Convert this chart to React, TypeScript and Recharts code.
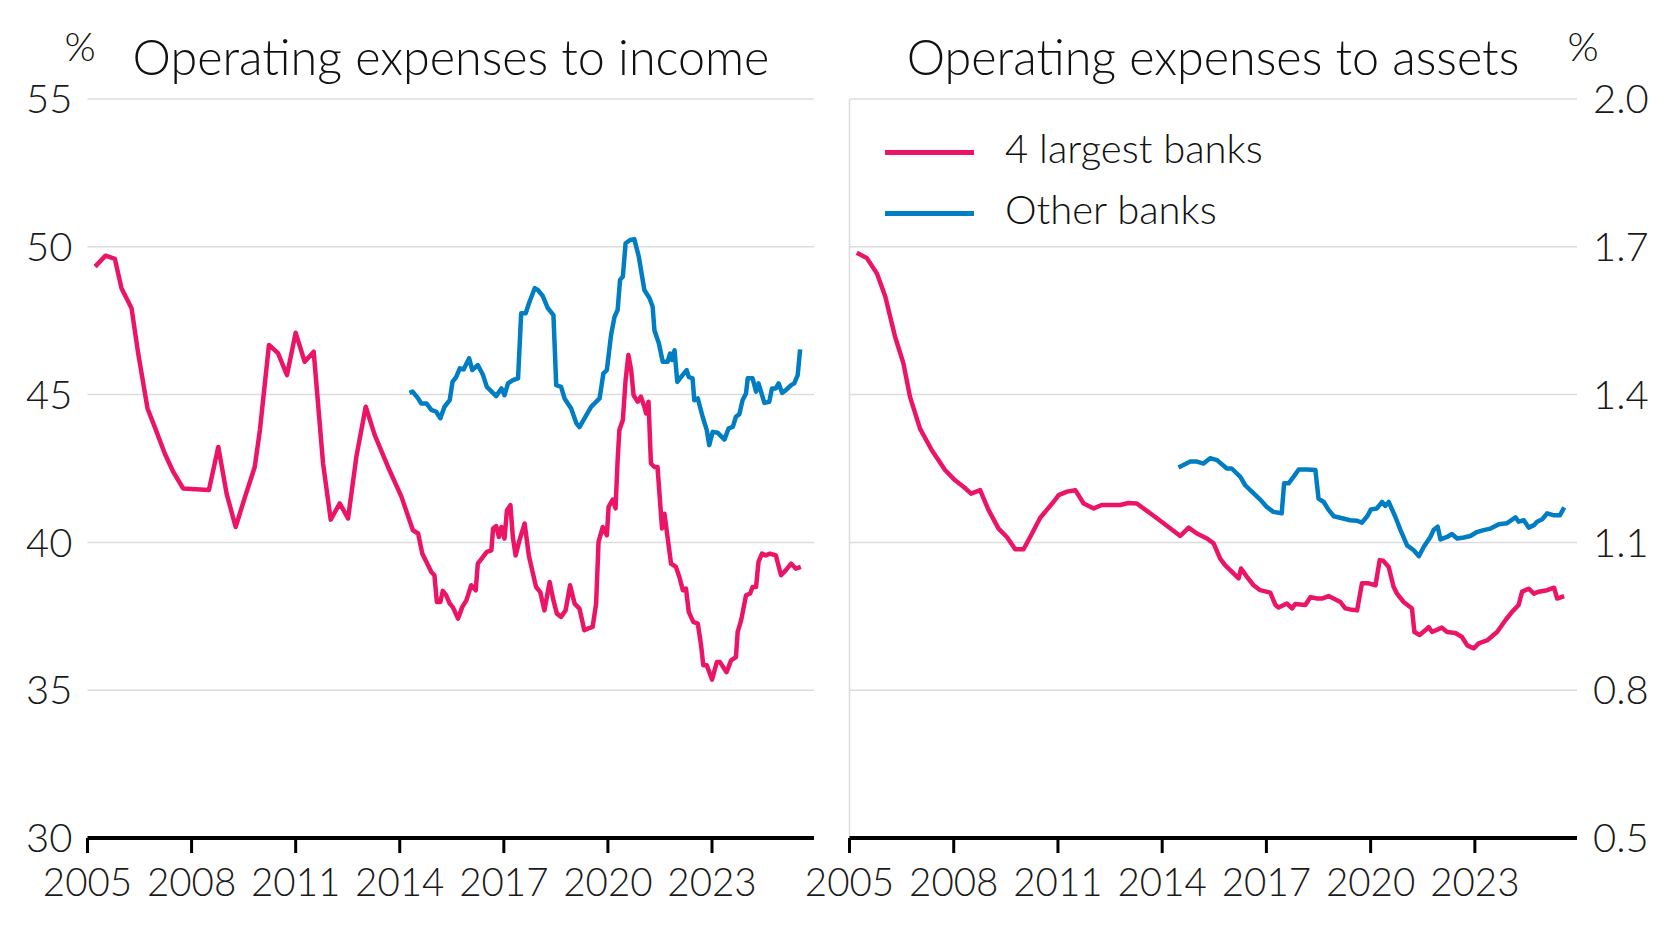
import { LineChart, Line, XAxis, YAxis, CartesianGrid, ReferenceLine } from "recharts";

const PINK = "#EC1466";
const BLUE = "#007DC3";
const GRID = "#DCDCDC";
const FONT = "Lato, 'Open Sans', sans-serif";
const PAGE_W = 1673;
const PAGE_H = 937;

const YEAR_TICKS = [2005, 2008, 2011, 2014, 2017, 2020, 2023];
const X_DOMAIN: [number, number] = [2005, 2025.94];
const INCOME_TICKS = [30, 35, 40, 45, 50, 55];
const ASSET_TICKS = [0.5, 0.8, 1.1, 1.4, 1.7, 2.0];

// Operating expenses to income, 4 largest banks (year, %)
const incomeMajors: [number, number][] = [
  [2005.22, 49.33], [2005.52, 49.7], [2005.79, 49.59], [2005.98, 48.6], [2006.27, 47.92],
  [2006.46, 46.4], [2006.73, 44.53], [2006.94, 43.9], [2007.23, 43.0], [2007.47, 42.39],
  [2007.76, 41.82], [2008.5, 41.77], [2008.77, 43.23], [2009.01, 41.65], [2009.27, 40.52],
  [2009.54, 41.54], [2009.82, 42.55], [2009.97, 43.8], [2010.23, 46.68], [2010.49, 46.4],
  [2010.75, 45.66], [2011.0, 47.09], [2011.26, 46.11], [2011.52, 46.45], [2011.79, 42.67],
  [2012.01, 40.77], [2012.27, 41.32], [2012.51, 40.81], [2012.75, 42.9], [2013.02, 44.59],
  [2013.28, 43.63], [2013.66, 42.56], [2014.05, 41.54], [2014.38, 40.41], [2014.53, 40.3],
  [2014.65, 39.62], [2014.77, 39.34], [2014.91, 39.0], [2015.0, 38.89], [2015.07, 37.98],
  [2015.17, 37.98], [2015.24, 38.36], [2015.34, 38.21], [2015.44, 37.93], [2015.53, 37.81],
  [2015.68, 37.42], [2015.8, 37.81], [2015.92, 38.04], [2016.06, 38.55], [2016.19, 38.38],
  [2016.25, 39.28], [2016.4, 39.51], [2016.51, 39.68], [2016.64, 39.73], [2016.69, 40.47],
  [2016.78, 40.55], [2016.86, 40.18], [2016.93, 40.52], [2017.02, 40.13], [2017.09, 41.09],
  [2017.19, 41.26], [2017.26, 40.18], [2017.34, 39.56], [2017.45, 40.07], [2017.6, 40.64],
  [2017.72, 39.56], [2017.84, 38.94], [2017.93, 38.49], [2018.05, 38.32], [2018.17, 37.7],
  [2018.32, 38.66], [2018.43, 38.04], [2018.53, 37.59], [2018.65, 37.48], [2018.78, 37.7],
  [2018.91, 38.55], [2019.04, 37.93], [2019.18, 37.76], [2019.32, 37.03], [2019.42, 37.08],
  [2019.56, 37.14], [2019.66, 37.93], [2019.73, 40.02], [2019.85, 40.52], [2019.97, 40.24],
  [2020.02, 41.2], [2020.14, 41.45], [2020.22, 41.15], [2020.28, 42.78], [2020.33, 43.8],
  [2020.43, 44.14], [2020.51, 45.49], [2020.59, 46.34], [2020.67, 45.83], [2020.74, 44.98],
  [2020.86, 44.76], [2020.95, 44.93], [2021.05, 44.59], [2021.1, 44.36], [2021.17, 44.76],
  [2021.24, 42.67], [2021.34, 42.55], [2021.43, 42.55], [2021.56, 40.47], [2021.63, 40.97],
  [2021.82, 39.28], [2021.96, 39.17], [2022.06, 38.83], [2022.16, 38.38], [2022.25, 38.44],
  [2022.33, 37.65], [2022.46, 37.31], [2022.59, 37.25], [2022.68, 36.57], [2022.75, 35.84],
  [2022.85, 35.84], [2023.0, 35.36], [2023.14, 35.95], [2023.23, 35.95], [2023.42, 35.61],
  [2023.55, 36.01], [2023.69, 36.12], [2023.74, 36.97], [2023.84, 37.36], [2023.98, 38.21],
  [2024.1, 38.27], [2024.17, 38.49], [2024.27, 38.49], [2024.34, 39.34], [2024.44, 39.62],
  [2024.55, 39.56], [2024.67, 39.62], [2024.84, 39.56], [2024.99, 38.89], [2025.13, 39.06],
  [2025.28, 39.28], [2025.42, 39.11], [2025.56, 39.17],
];

// Operating expenses to income, other banks (year, %)
const incomeOthers: [number, number][] = [
  [2014.28, 45.06], [2014.37, 45.1], [2014.53, 44.87], [2014.62, 44.7], [2014.77, 44.7],
  [2014.91, 44.48], [2015.05, 44.42], [2015.17, 44.2], [2015.29, 44.59], [2015.44, 44.81],
  [2015.52, 45.43], [2015.63, 45.6], [2015.73, 45.89], [2015.84, 45.85], [2016.0, 46.23],
  [2016.09, 45.83], [2016.25, 46.0], [2016.4, 45.66], [2016.51, 45.26], [2016.78, 44.95],
  [2016.93, 45.21], [2017.02, 44.98], [2017.12, 45.38], [2017.26, 45.49], [2017.41, 45.55],
  [2017.5, 47.75], [2017.63, 47.75], [2017.74, 48.14], [2017.89, 48.6], [2017.98, 48.54],
  [2018.12, 48.34], [2018.27, 47.92], [2018.43, 47.69], [2018.51, 45.32], [2018.65, 45.26],
  [2018.75, 44.87], [2018.94, 44.53], [2019.09, 44.03], [2019.18, 43.9], [2019.32, 44.19],
  [2019.52, 44.59], [2019.76, 44.87], [2019.87, 45.72], [2019.97, 45.83], [2020.09, 47.01],
  [2020.19, 47.63], [2020.28, 47.86], [2020.35, 48.88], [2020.43, 48.99], [2020.51, 50.12],
  [2020.64, 50.23], [2020.76, 50.26], [2020.89, 49.67], [2021.05, 48.54], [2021.2, 48.26],
  [2021.29, 47.97], [2021.34, 47.18], [2021.47, 46.73], [2021.58, 46.11], [2021.72, 46.11],
  [2021.79, 46.39], [2021.85, 46.17], [2021.92, 46.5], [2022.0, 45.43], [2022.11, 45.6],
  [2022.27, 45.83], [2022.33, 45.6], [2022.44, 45.55], [2022.49, 44.81], [2022.59, 44.87],
  [2022.73, 44.25], [2022.85, 43.8], [2022.92, 43.29], [2023.02, 43.74], [2023.16, 43.71],
  [2023.36, 43.48], [2023.48, 43.86], [2023.6, 43.91], [2023.69, 44.25], [2023.79, 44.34],
  [2023.88, 44.81], [2023.98, 45.04], [2024.03, 45.55], [2024.17, 45.55], [2024.27, 45.1],
  [2024.34, 45.38], [2024.51, 44.72], [2024.65, 44.76], [2024.73, 45.21], [2024.84, 45.21],
  [2024.92, 45.38], [2025.02, 45.06], [2025.13, 45.15], [2025.28, 45.32], [2025.37, 45.38],
  [2025.47, 45.66], [2025.54, 46.53],
];

// Operating expenses to assets, 4 largest banks (year, %)
const assetsMajors: [number, number][] = [
  [2005.21, 1.688], [2005.5, 1.677], [2005.79, 1.646], [2006.03, 1.599], [2006.31, 1.518],
  [2006.55, 1.464], [2006.74, 1.396], [2007.03, 1.331], [2007.37, 1.287], [2007.75, 1.247],
  [2008.04, 1.226], [2008.28, 1.213], [2008.5, 1.199], [2008.76, 1.206], [2009.0, 1.166],
  [2009.29, 1.128], [2009.53, 1.111], [2009.77, 1.086], [2010.01, 1.086], [2010.2, 1.111],
  [2010.49, 1.15], [2010.68, 1.166], [2010.87, 1.182], [2011.02, 1.196], [2011.26, 1.203],
  [2011.5, 1.206], [2011.74, 1.179], [2012.03, 1.169], [2012.26, 1.176], [2012.79, 1.176],
  [2013.03, 1.18], [2013.27, 1.179], [2013.85, 1.149], [2014.52, 1.113], [2014.76, 1.13],
  [2015.0, 1.118], [2015.29, 1.108], [2015.48, 1.098], [2015.67, 1.067], [2015.81, 1.054],
  [2016.2, 1.027], [2016.27, 1.047], [2016.44, 1.03], [2016.63, 1.013], [2016.82, 1.003],
  [2017.11, 0.998], [2017.26, 0.973], [2017.35, 0.968], [2017.59, 0.976], [2017.74, 0.966],
  [2017.83, 0.975], [2018.12, 0.973], [2018.27, 0.989], [2018.46, 0.986], [2018.6, 0.986],
  [2018.79, 0.991], [2019.13, 0.979], [2019.27, 0.966], [2019.41, 0.964], [2019.61, 0.962],
  [2019.75, 1.017], [2019.94, 1.017], [2020.14, 1.013], [2020.26, 1.064], [2020.36, 1.063],
  [2020.52, 1.05], [2020.66, 1.01], [2020.76, 0.996], [2020.95, 0.979], [2021.19, 0.966],
  [2021.26, 0.918], [2021.41, 0.912], [2021.58, 0.922], [2021.67, 0.928], [2021.77, 0.918],
  [2022.05, 0.927], [2022.2, 0.918], [2022.44, 0.916], [2022.63, 0.908], [2022.78, 0.891],
  [2022.97, 0.885], [2023.11, 0.895], [2023.35, 0.901], [2023.64, 0.918], [2023.88, 0.942],
  [2024.07, 0.959], [2024.26, 0.973], [2024.36, 1.0], [2024.55, 1.006], [2024.7, 0.996],
  [2024.84, 1.0], [2025.08, 1.003], [2025.28, 1.008], [2025.37, 0.986], [2025.57, 0.991],
];

// Operating expenses to assets, other banks (year, %)
const assetsOthers: [number, number][] = [
  [2014.47, 1.252], [2014.61, 1.257], [2014.81, 1.264], [2015.0, 1.264], [2015.19, 1.26],
  [2015.38, 1.271], [2015.58, 1.267], [2015.86, 1.25], [2016.0, 1.25], [2016.25, 1.233],
  [2016.39, 1.216], [2016.58, 1.203], [2016.82, 1.187], [2017.01, 1.172], [2017.2, 1.162],
  [2017.44, 1.159], [2017.51, 1.22], [2017.64, 1.22], [2017.78, 1.233], [2017.93, 1.248],
  [2018.17, 1.248], [2018.41, 1.247], [2018.5, 1.189], [2018.65, 1.182], [2018.79, 1.166],
  [2018.94, 1.153], [2019.18, 1.149], [2019.41, 1.145], [2019.61, 1.144], [2019.75, 1.14],
  [2019.9, 1.153], [2020.01, 1.167], [2020.18, 1.169], [2020.33, 1.182], [2020.42, 1.174],
  [2020.52, 1.182], [2020.71, 1.152], [2020.86, 1.125], [2021.05, 1.094], [2021.24, 1.084],
  [2021.39, 1.072], [2021.53, 1.091], [2021.72, 1.111], [2021.81, 1.125], [2021.93, 1.132],
  [2022.01, 1.106], [2022.2, 1.111], [2022.34, 1.117], [2022.49, 1.108], [2022.68, 1.11],
  [2022.87, 1.113], [2023.06, 1.121], [2023.25, 1.125], [2023.45, 1.128], [2023.69, 1.137],
  [2023.93, 1.139], [2024.17, 1.151], [2024.26, 1.142], [2024.41, 1.145], [2024.55, 1.13],
  [2024.7, 1.135], [2024.79, 1.142], [2024.94, 1.147], [2025.08, 1.159], [2025.28, 1.155],
  [2025.45, 1.155], [2025.57, 1.171],
];

const SERIES = [
  { name: "4 largest banks", color: PINK },
  { name: "Other banks", color: BLUE },
];

const toPoints = (rows: [number, number][]) => rows.map(([x, y]) => ({ x, y }));

const tickStyle = { fontSize: 40, fill: "#1a1a1a", fontFamily: FONT, fontWeight: 300 };
const yearTickStyle = { ...tickStyle, fontSize: 38.5 };

function XAx() {
  return (
    <XAxis
      dataKey="x" type="number" domain={X_DOMAIN} ticks={YEAR_TICKS} allowDataOverflow
      height={99} tick={yearTickStyle} tickSize={15} tickMargin={16} interval={0}
      axisLine={{ stroke: "#000", strokeWidth: 4 }} tickLine={{ stroke: "#000", strokeWidth: 3 }}
    />
  );
}

function Series({ data, color, name }: { data: { x: number; y: number }[]; color: string; name: string }) {
  return (
    <Line data={data} dataKey="y" name={name} type="linear" stroke={color} strokeWidth={4.5}
      dot={false} activeDot={false} isAnimationActive={false} strokeLinejoin="round" />
  );
}

const layer = { position: "absolute" as const, left: 0, top: 0 };

export default function App() {
  return (
    <div style={{ position: "fixed", left: 0, top: 0, width: PAGE_W, height: PAGE_H, background: "#fff", fontFamily: FONT }}>
      {/* Left panel: expenses to income */}
      <div style={layer}>
        <LineChart width={PAGE_W} height={PAGE_H} margin={{ top: 99, right: 859, bottom: 0, left: 0 }}>
          <CartesianGrid vertical={false} stroke={GRID} strokeWidth={1.5} />
          {XAx()}
          <YAxis type="number" domain={[30, 55]} ticks={INCOME_TICKS} width={87.5} tick={tickStyle}
            tickSize={0} tickMargin={15} axisLine={false} tickLine={false} />
          {Series({ data: toPoints(incomeMajors), color: PINK, name: SERIES[0].name })}
          {Series({ data: toPoints(incomeOthers), color: BLUE, name: SERIES[1].name })}
        </LineChart>
      </div>

      {/* Right panel: expenses to assets */}
      <div style={layer}>
        <LineChart width={PAGE_W} height={PAGE_H} margin={{ top: 99, right: 0, bottom: 0, left: 849.5 }}>
          <CartesianGrid vertical={false} stroke={GRID} strokeWidth={1.5} />
          {XAx()}
          <YAxis orientation="right" type="number" domain={[0.5, 2.0]} ticks={ASSET_TICKS} width={96}
            tick={tickStyle} tickSize={0} tickMargin={16} axisLine={false} tickLine={false}
            tickFormatter={(v: number) => v.toFixed(1)} />
          <ReferenceLine x={2005} stroke={GRID} strokeWidth={1.5} />
          {Series({ data: toPoints(assetsMajors), color: PINK, name: SERIES[0].name })}
          {Series({ data: toPoints(assetsOthers), color: BLUE, name: SERIES[1].name })}
        </LineChart>
      </div>

      {/* Titles and unit labels */}
      <svg width={PAGE_W} height={120} style={layer}>
        <g fontFamily={FONT} fontWeight={300} fill="#111">
          <text x={451} y={75} fontSize={48.5} textAnchor="middle">Operating expenses to income</text>
          <text x={1213} y={75} fontSize={48.5} textAnchor="middle">Operating expenses to assets</text>
          <text x={80} y={61} fontSize={40} textAnchor="middle">%</text>
          <text x={1583} y={61} fontSize={40} textAnchor="middle">%</text>
        </g>
      </svg>

      {/* Legend */}
      <div style={{ position: "absolute", left: 885, top: 122 }}>
        {SERIES.map((s) => (
          <div key={s.name} style={{ position: "relative", height: 61 }}>
            <div style={{ position: "absolute", left: 0, top: 28, width: 89, height: 5, background: s.color }} />
            <span style={{ position: "absolute", left: 120, top: 6, fontSize: 40, fontWeight: 300, color: "#111", lineHeight: 1, whiteSpace: "nowrap" }}>{s.name}</span>
          </div>
        ))}
      </div>
    </div>
  );
}
